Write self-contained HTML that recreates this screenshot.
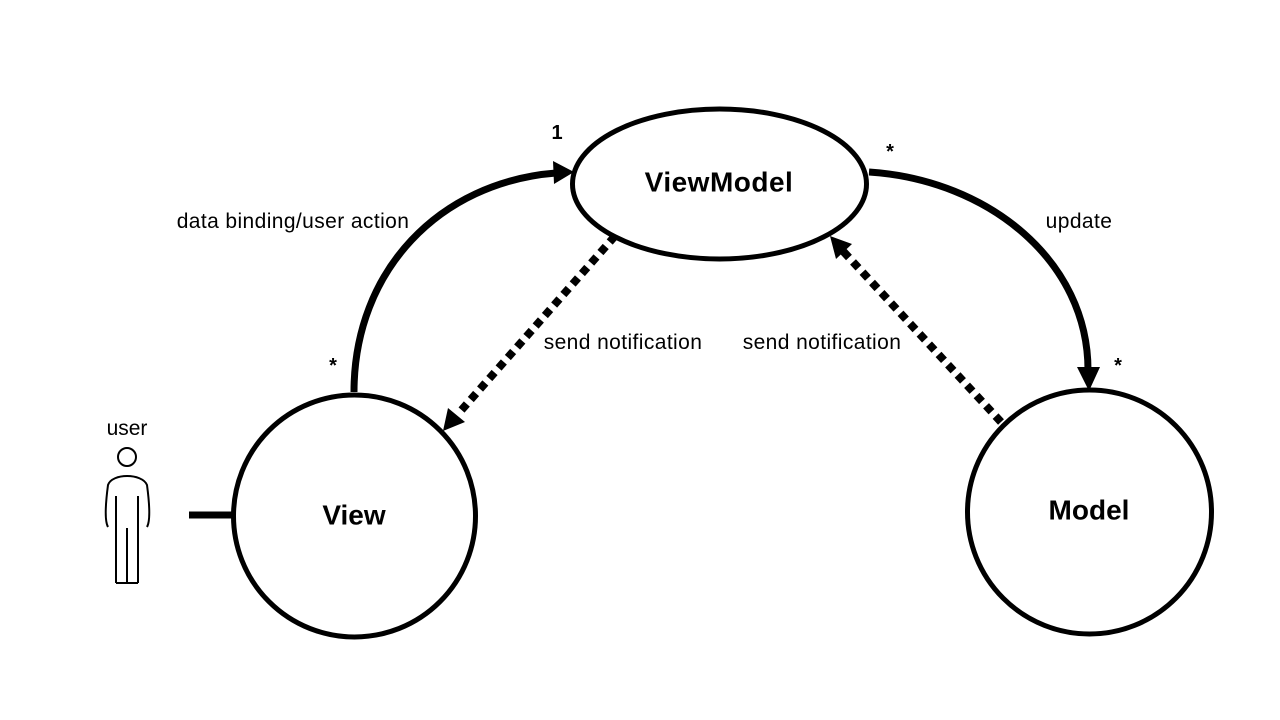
<!DOCTYPE html>
<html><head><style>
html,body{margin:0;padding:0;background:#fff;}
svg{display:block;}
text{font-family:"Liberation Sans",sans-serif;fill:#000;}
</style></head><body>
<svg width="1280" height="720" viewBox="0 0 1280 720" xmlns="http://www.w3.org/2000/svg">
<ellipse cx="719.5" cy="184" rx="147" ry="75" fill="#fff" stroke="#000" stroke-width="5"/>
<circle cx="354.5" cy="516" r="121" fill="#fff" stroke="#000" stroke-width="5"/>
<circle cx="1089.5" cy="512" r="122" fill="#fff" stroke="#000" stroke-width="5"/>
<path d="M354,392 C354,270 440,182 556,173" fill="none" stroke="#000" stroke-width="7"/>
<polygon points="574,172 553,161 554,184" fill="#000"/>
<path d="M869,172 C990,180 1088,262 1088,370" fill="none" stroke="#000" stroke-width="7"/>
<polygon points="1089,391 1077,367 1100,367" fill="#000"/>
<path d="M615,236 L458,414" fill="none" stroke="#000" stroke-width="8" stroke-dasharray="8,6"/>
<polygon points="443,431 448,408 465,422" fill="#000"/>
<path d="M1001,422 L842,250" fill="none" stroke="#000" stroke-width="8" stroke-dasharray="8,6"/>
<polygon points="830,236 852,244 836,259" fill="#000"/>
<line x1="189" y1="515" x2="232" y2="515" stroke="#000" stroke-width="7"/>
<g fill="none" stroke="#000" stroke-width="2">
<circle cx="127" cy="457" r="9"/>
<path d="M116,583 L116,496 M138,583 L138,496 M116,583 L138,583 M127,583 L127,528"/>
<path d="M108,527 C104,520 106,500 108,485 C112,473 142,473 147,485 C149,500 151,520 147,527"/>
</g>
<text x="719" y="184" font-size="28" font-weight="bold" text-anchor="middle" dominant-baseline="middle" letter-spacing="0.5">ViewModel</text>
<text x="354" y="517" font-size="28" font-weight="bold" text-anchor="middle" dominant-baseline="middle">View</text>
<text x="1089" y="512" font-size="28" font-weight="bold" text-anchor="middle" dominant-baseline="middle">Model</text>
<text x="293" y="228" font-size="21" text-anchor="middle" letter-spacing="0.4">data binding/user action</text>
<text x="1079" y="228" font-size="21" text-anchor="middle" letter-spacing="0.4">update</text>
<text x="623" y="349" font-size="21" text-anchor="middle" letter-spacing="0.4">send notification</text>
<text x="822" y="349" font-size="21" text-anchor="middle" letter-spacing="0.4">send notification</text>
<text x="127" y="435" font-size="21" text-anchor="middle">user</text>
<text x="557" y="139" font-size="20" font-weight="bold" text-anchor="middle">1</text>
<text x="890" y="158" font-size="20" font-weight="bold" text-anchor="middle">*</text>
<text x="333" y="372" font-size="20" font-weight="bold" text-anchor="middle">*</text>
<text x="1118" y="372" font-size="20" font-weight="bold" text-anchor="middle">*</text>
</svg>
</body></html>
